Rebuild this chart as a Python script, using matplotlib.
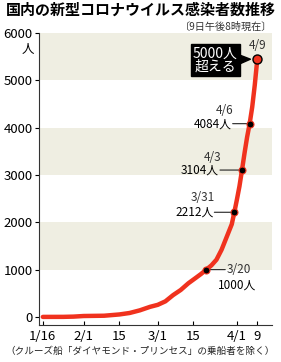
import numpy as np
import pandas as pd
import matplotlib
matplotlib.use("Agg")
import matplotlib.pyplot as plt

plt.rcParams['font.family'] = ['Noto Sans CJK JP', 'DejaVu Sans']

# cumulative domestic cases
dates = ["1/16", "1/24", "1/28", "2/1", "2/9", "2/15", "2/19", "2/23", "2/27",
         "3/1", "3/4", "3/7", "3/10", "3/13", "3/16", "3/18", "3/20", "3/22",
         "3/24", "3/26", "3/28", "3/30", "3/31", "4/1", "4/2", "4/3", "4/4",
         "4/5", "4/6", "4/7", "4/8", "4/9"]
cases = [1, 2, 7, 20, 26, 53, 84, 140, 214,
         256, 330, 461, 570, 712, 830, 910, 1000, 1089,
         1210, 1420, 1690, 1960, 2212, 2478, 2760, 3104, 3464,
         3800, 4084, 4435, 4900, 5450]

# labelled points
mark_dates = ["3/20", "3/31", "4/3", "4/6"]
mark_vals = [1000, 2212, 3104, 4084]
last_date = "4/9"
last_val = 5450

tick_dates = ["1/16", "2/1", "2/15", "3/1", "3/15", "4/1", "4/9"]
tick_labels = ["1/16", "2/1", "15", "3/1", "15", "4/1", "9"]
yticks = [0, 1000, 2000, 3000, 4000, 5000, 6000]

def to_dt(lst):
    return pd.to_datetime(["2020/" + d for d in lst])

x = to_dt(dates)
red = "#f0321e"

fig = plt.figure(figsize=(2.81, 3.62), dpi=100)
ax = fig.add_axes([39/281, 37/362, 233/281, 292/362])

for lo in [1000, 3000, 5000]:
    ax.axhspan(lo, lo + 1000, color="#efeee2", lw=0, zorder=0)

ax.plot(x, cases, color=red, lw=3.2, solid_capstyle='round', solid_joinstyle='round', zorder=3)
ax.plot(to_dt(mark_dates), mark_vals, 'o', ms=5, mfc='black', mec=red, mew=0.8, zorder=4)
ax.plot(to_dt([last_date]), [last_val], 'o', ms=6.5, mfc=red, mec='black', mew=1.0, zorder=4)

ax.set_ylim(-170, 6000)
ax.set_xlim(pd.Timestamp("2020-01-14 12:00"), pd.Timestamp("2020-04-14 18:00"))
ax.set_yticks(yticks)
ax.set_yticklabels([str(v) for v in yticks], fontsize=9.5)
ax.set_xticks(to_dt(tick_dates))
ax.set_xticklabels(tick_labels, fontsize=9.5)
ax.tick_params(axis='y', direction='out', length=3, width=0.8, pad=1.5)
ax.tick_params(axis='x', direction='in', length=3, width=0.8, pad=3.5)
for s in ['top', 'right']:
    ax.spines[s].set_visible(False)
for s in ['left', 'bottom']:
    ax.spines[s].set_linewidth(0.8)
    ax.spines[s].set_color('#333333')

ax.annotate("人", xy=(0, 6000), xycoords=('axes fraction', 'data'), xytext=(-11, -16),
            textcoords='offset pixels', ha='center', va='center', fontsize=9)

def label(d, v, name, num, dx, dy_name, side):
    p = (to_dt([d])[0], v)
    ax.annotate('', xy=p, xytext=(dx, 0), textcoords='offset pixels',
                arrowprops=dict(arrowstyle='-', lw=0.8, color='#222222', shrinkA=0, shrinkB=0),
                zorder=2)
    if side == 'right':
        ax.annotate(name, xy=p, xytext=(dx + 1, 0), textcoords='offset pixels',
                    ha='left', va='center', fontsize=8.5, color='#333333')
        ax.annotate(num, xy=p, xytext=(dx - 7, -15), textcoords='offset pixels',
                    ha='left', va='center', fontsize=8.5)
    else:
        ax.annotate(num, xy=p, xytext=(dx - 1, 0), textcoords='offset pixels',
                    ha='right', va='center', fontsize=8.5)
        ax.annotate(name, xy=p, xytext=(dx + 1, dy_name), textcoords='offset pixels',
                    ha='right', va='center', fontsize=8.5, color='#333333')

label(mark_dates[0], mark_vals[0], "3/20", "1000人", 19, 0, 'right')
label(mark_dates[1], mark_vals[1], "3/31", "2212人", -20, 15, 'left')
label(mark_dates[2], mark_vals[2], "4/3", "3104人", -22, 13, 'left')
label(mark_dates[3], mark_vals[3], "4/6", "4084人", -17, 13, 'left')

p_last = (to_dt([last_date])[0], last_val)
ax.annotate("4/9", xy=p_last, xytext=(0, 14), textcoords='offset pixels',
            ha='center', va='center', fontsize=8.5, color='#333333')
ax.annotate("5000人\n超える", xy=p_last, xytext=(-42, -1), textcoords='offset pixels',
            ha='center', va='center', fontsize=10, color='white', linespacing=0.95,
            bbox=dict(boxstyle='square,pad=0.15', fc='black', ec='black'),
            arrowprops=dict(arrowstyle='wedge,tail_width=0.6', fc='black', ec='black',
                            shrinkA=0, shrinkB=5))

fig.text(0.5, 0.972, "国内の新型コロナウイルス感染者数推移", ha='center', va='center',
         fontsize=10.8, fontweight='bold')
fig.text(0.968, 0.925, "〔9日午後8時現在〕", ha='right', va='center', fontsize=7.3,
         color='#333333')
fig.text(0.5, 0.030, "（クルーズ船「ダイヤモンド・プリンセス」の乗船者を除く）", ha='center',
         va='center', fontsize=6.9, color='#222222')

fig.savefig("out.png", dpi=100)
